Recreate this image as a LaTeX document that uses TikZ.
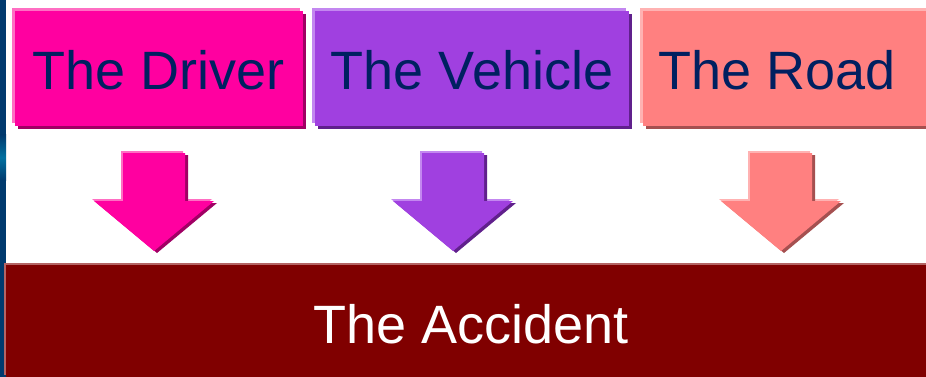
\documentclass[tikz,border=0pt]{standalone}
\usepackage{fontspec}
\setmainfont{Liberation Sans}
\usetikzlibrary{shadows}
\definecolor{txtnavy}{RGB}{0,32,96}
\definecolor{drvmain}{RGB}{255,0,160}
\definecolor{drvlight}{RGB}{255,110,195}
\definecolor{drvdark}{RGB}{160,0,100}
\definecolor{vehmain}{RGB}{160,64,224}
\definecolor{vehlight}{RGB}{195,135,240}
\definecolor{vehdark}{RGB}{96,32,140}
\definecolor{roadmain}{RGB}{255,128,128}
\definecolor{roadlight}{RGB}{255,178,178}
\definecolor{roaddark}{RGB}{165,80,80}
\definecolor{accmain}{RGB}{128,0,0}
\definecolor{acclight}{RGB}{180,100,100}
\definecolor{stripblue}{RGB}{0,58,110}
\definecolor{stripteal}{RGB}{0,112,160}

\begin{document}
\begin{tikzpicture}[x=1pt, y=-1pt,
    tbox/.style n args={3}{rectangle, inner sep=0pt, fill=#1, minimum height=115pt,
        general shadow={fill=#2, shadow xshift=-3pt, shadow yshift=3pt},
        general shadow={fill=#3, shadow xshift=3pt, shadow yshift=-3pt},
        text=txtnavy, text height=42pt, font=\fontsize{54}{60}\selectfont}]
    \useasboundingbox (0,0) rectangle (926,377);
    \clip (0,0) rectangle (926,377);
    \fill[white] (0,0) rectangle (926,377);

    % Slide edge on the left
    \fill[stripblue] (0,0) rectangle (6,377);
    \shade[top color=stripblue, bottom color=stripblue, middle color=stripteal] (0,135) rectangle (6,180);

    % Factors
    \node[tbox={drvmain}{drvlight}{drvdark}, minimum width=288pt] (driver) at (159,68.5) {The Driver};
    \node[tbox={vehmain}{vehlight}{vehdark}, minimum width=314pt] (vehicle) at (472,68.5) {The Vehicle};
    \node[tbox={roadmain}{roadlight}{roaddark}, minimum width=297pt] (road) at (791.5,68.5) {The Road\hspace*{29pt}};

    % Block arrows down
    \foreach \cx/\cm/\cl/\cd in {154/drvmain/drvlight/drvdark, 453/vehmain/vehlight/vehdark, 781/roadmain/roadlight/roaddark}
        \fill[\cm, general shadow={fill=\cl, shadow xshift=-2pt, shadow yshift=2pt},
              general shadow={fill=\cd, shadow xshift=3pt, shadow yshift=-2pt}]
            (\cx-31,153) -- (\cx+31,153) -- (\cx+31,201) -- (\cx+60,201) -- (\cx,251)
            -- (\cx-60,201) -- (\cx-31,201) -- cycle;

    % Result
    \node[rectangle, inner sep=0pt, fill=accmain,
          general shadow={fill=acclight, shadow xshift=-2pt, shadow yshift=2pt},
          minimum width=930pt, minimum height=112pt, text=white, text height=45pt,
          font=\fontsize{54}{60}\selectfont] (accident) at (471,321) {The Accident};
\end{tikzpicture}
\end{document}
